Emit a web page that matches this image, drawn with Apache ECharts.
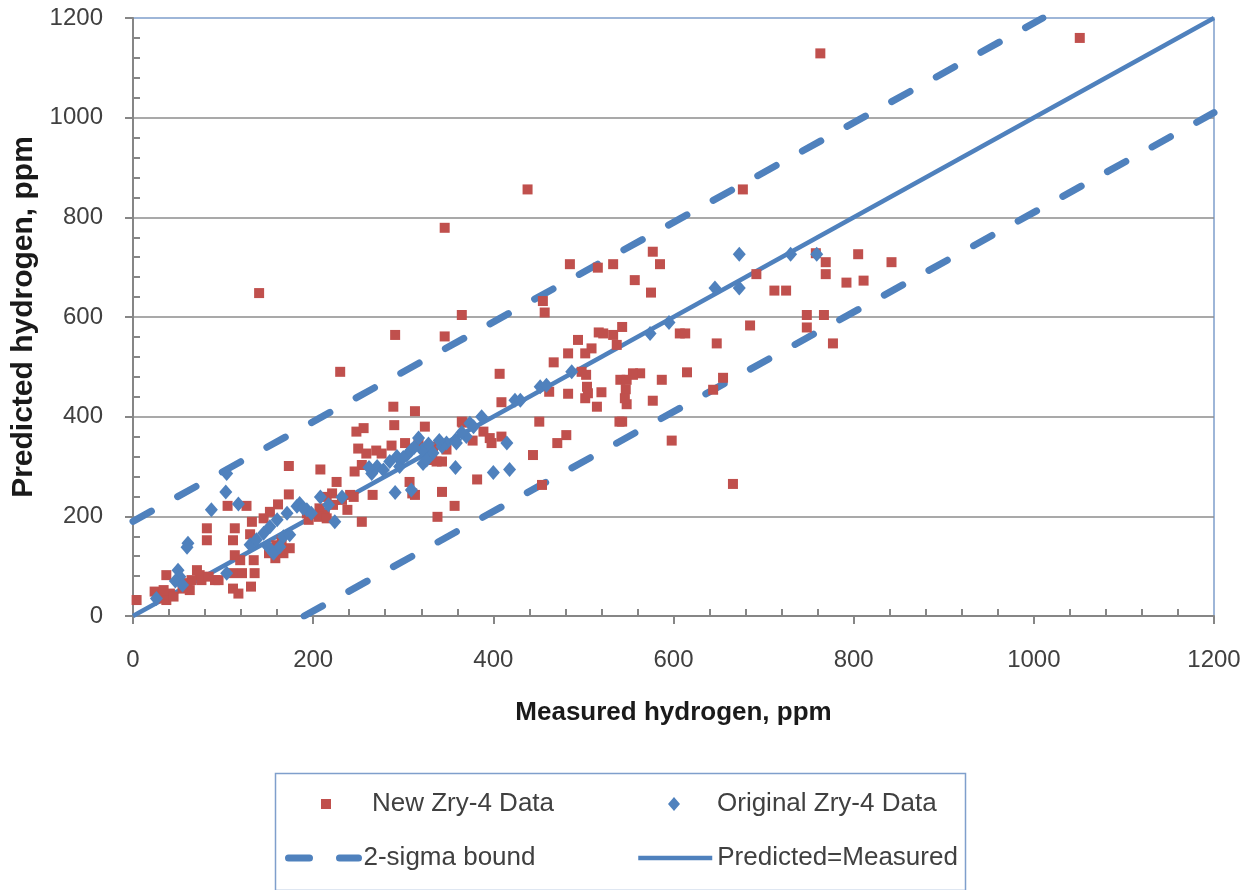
<!DOCTYPE html>
<html><head><meta charset="utf-8">
<script src="https://cdn.jsdelivr.net/npm/echarts@6/dist/echarts.min.js"></script>
<style>html,body{margin:0;padding:0;background:#fff}#c{width:1257px;height:890px}</style>
</head><body><div id="c"></div>
<script>
// ---- data ----
const xTickLabels = [0, 200, 400, 600, 800, 1000, 1200];
const yTickLabels = [0, 200, 400, 600, 800, 1000, 1200];
const minorTicks = [40,80,120,160,240,280,320,360,440,480,520,560,640,680,720,760,840,880,920,960,1040,1080,1120,1160];

const newZry4 = [
  [1051,1160],[763,1129],[438,856],[677,856],[346,779],[140,648],[485,706],[516,699],[533,706],
  [455,632],[457,609],[365,604],[291,564],[346,561],[494,554],[517,569],
  [577,731],[585,706],[557,674],[575,649],[692,686],[712,653],[725,653],[758,728],[769,710],[769,686],
  [805,726],[792,669],[811,673],[842,710],[748,604],[767,604],[748,579],[777,547],[685,583],[607,567],
  [613,567],[648,547],[615,489],[587,474],[577,432],[655,478],[644,454],[598,352],[666,265],
  [543,580],[563,487],[555,487],[548,425],[543,390],[533,564],[537,544],[522,567],
  [509,537],[502,527],[483,527],[467,509],[407,486],[498,490],[503,484],[504,460],[505,447],[520,449],
  [502,437],[515,420],[462,450],[483,446],[409,429],[541,474],[548,474],[547,455],[546,437],[555,484],
  [540,390],[365,390],[451,390],[389,370],[396,357],[398,347],[409,360],[377,352],[481,363],[471,347],
  [444,323],[382,274],[454,263],[343,310],[343,249],
  [230,490],[289,420],[313,411],[290,383],[324,380],[248,370],[256,377],[366,388],[250,336],[259,326],
  [270,332],[276,326],[287,342],[302,347],[317,347],[333,340],[337,310],[332,313],[348,334],[208,294],
  [254,303],[246,290],[226,269],[307,269],[310,246],[266,243],[221,246],[215,239],[245,239],[357,221],
  [238,213],[207,216],[213,203],[254,189],[338,199],[193,206],[195,193],
  [222,223],[232,233],[241,243],[206,199],[215,196],[313,243],
  [173,301],[173,244],[105,221],[126,221],[82,176],[82,152],[113,176],[111,152],[132,189],[130,164],
  [161,224],[145,196],[152,209],[113,122],[119,112],[134,112],[151,126],[158,116],[167,126],[174,136],
  [165,152],[159,142],[156,136],[121,86],[110,86],[135,86],[131,59],[111,55],[117,45],[71,92],[74,82],
  [65,72],[76,72],[84,79],[91,72],[37,82],[24,49],[34,52],[41,45],[30,35],[37,32],[45,39],[4,32],
  [60,66],[63,52],[55,55],[95,72]
];

const originalZry4 = [
  [673,726],[730,726],[759,726],[646,658],[673,658],[595,589],[574,567],
  [487,490],[452,460],[459,463],[424,433],[430,433],[387,400],[374,387],[358,353],[348,347],[343,340],
  [358,298],[400,288],[418,294],[415,347],
  [317,357],[321,333],[322,306],[309,333],[304,323],[293,320],[296,300],[271,300],[278,293],[265,286],
  [291,248],[309,253],[224,189],[208,239],[359,347],[370,360],[378,380],[333,327],[326,313],
  [262,298],[285,310],[300,318],[312,338],[328,345],[340,352],[365,368],
  [217,223],[232,239],[185,226],[193,213],[198,206],
  [104,286],[103,249],[87,213],[117,225],[61,146],[60,138],[50,92],[52,79],[47,70],[55,62],[26,35],[104,86],
  [130,143],[137,153],[145,166],[152,179],[160,193],[171,206],[182,220],[189,216],[150,139],[156,126],
  [163,139],[167,159],[174,163]
];

const upperBound = [[0,190],[1010,1200]];
const lowerBound = [[190,0],[1200,1010]];
const identityLine = [[0,0],[1200,1200]];

// ---- chart ----
const FONT = 'Liberation Sans, Arial, sans-serif';
const BLUE = '#4f81bd';
const RED = '#c0504d';
const AXIS_GRAY = '#868686';
const DASH = [21, 30];

const chart = echarts.init(document.getElementById('c'), null, {renderer: 'canvas'});
const legendText = {fontSize: 26, color: '#404040', fontFamily: FONT};
const plain = v => String(v);

chart.setOption({
  animation: false,
  backgroundColor: '#fff',
  grid: {left: 133, right: 43, top: 18, bottom: 274, show: true, borderColor: '#7f9fcc', borderWidth: 1.5, backgroundColor: '#fff'},
  xAxis: [{
    type: 'value', min: xTickLabels[0], max: xTickLabels[xTickLabels.length - 1], interval: 200, position: 'bottom',
    axisLine: {onZero: false, lineStyle: {color: AXIS_GRAY, width: 2}},
    axisTick: {show: true, length: 8, lineStyle: {color: AXIS_GRAY, width: 2}},
    axisLabel: {fontSize: 24, color: '#404040', margin: 32, fontFamily: FONT, formatter: plain},
    splitLine: {show: false},
    name: 'Measured hydrogen, ppm', nameLocation: 'middle', nameGap: 84,
    nameTextStyle: {fontSize: 26, fontWeight: 'bold', color: '#1a1a1a', fontFamily: FONT}
  }, {
    type: 'value', min: 0, max: 1200, position: 'bottom',
    axisLine: {show: false, onZero: false}, axisLabel: {show: false}, splitLine: {show: false},
    axisTick: {show: true, inside: true, length: 7, customValues: minorTicks, lineStyle: {color: AXIS_GRAY, width: 2}}
  }],
  yAxis: [{
    type: 'value', min: yTickLabels[0], max: yTickLabels[yTickLabels.length - 1], interval: 200, position: 'left',
    axisLine: {show: true, onZero: false, lineStyle: {color: AXIS_GRAY, width: 2}},
    axisTick: {show: true, length: 8, lineStyle: {color: AXIS_GRAY, width: 2}},
    axisLabel: {fontSize: 24, color: '#404040', margin: 30, fontFamily: FONT, formatter: plain},
    splitLine: {show: true, showMaxLine: false, lineStyle: {color: '#8c8c8c', width: 1.5}},
    name: 'Predicted hydrogen, ppm', nameLocation: 'middle', nameGap: 92, nameRotate: 90,
    nameTextStyle: {fontSize: 30, fontWeight: 'bold', color: '#1a1a1a', fontFamily: FONT}
  }, {
    type: 'value', min: 0, max: 1200, position: 'left',
    axisLine: {show: false, onZero: false}, axisLabel: {show: false}, splitLine: {show: false},
    axisTick: {show: true, inside: true, length: 7, customValues: minorTicks, lineStyle: {color: AXIS_GRAY, width: 2}}
  }],
  legend: [
    {data: [{name: 'New Zry-4 Data', icon: 'rect'}], left: 321, top: 791, padding: 0, itemWidth: 10, itemHeight: 10,
     selectedMode: false, itemStyle: {opacity: 1}, textStyle: Object.assign({padding: [0, 0, 0, 36]}, legendText)},
    {data: [{name: 'Original Zry-4 Data', icon: 'diamond'}], left: 668, top: 791, padding: 0, itemWidth: 12, itemHeight: 14,
     selectedMode: false, itemStyle: {opacity: 1}, textStyle: Object.assign({padding: [0, 0, 0, 32]}, legendText)},
    {data: ['2-sigma bound'], left: 285, top: 845, padding: 0, itemWidth: 70, itemHeight: 14,
     selectedMode: false, itemStyle: {opacity: 0},
     lineStyle: {color: BLUE, width: 7, type: DASH, cap: 'round', opacity: 1},
     textStyle: Object.assign({}, legendText)},
    {data: ['Predicted=Measured'], left: 636, top: 845, padding: 0, itemWidth: 74, itemHeight: 14,
     selectedMode: false, itemStyle: {opacity: 0},
     lineStyle: {color: BLUE, width: 4.5, opacity: 1},
     textStyle: Object.assign({}, legendText)}
  ],
  graphic: [{
    type: 'rect', left: 273, top: 771,
    shape: {x: 0, y: 0, width: 690, height: 117},
    style: {fill: 'none', stroke: '#7f9fcc', lineWidth: 1.5}, silent: true
  }],
  series: [
    {type: 'line', name: '2-sigma bound', data: upperBound, symbol: 'none', silent: true, z: 1,
     itemStyle: {color: BLUE}, lineStyle: {color: BLUE, width: 7, type: DASH, cap: 'round', opacity: 1}},
    {type: 'line', name: '2-sigma bound', data: lowerBound, symbol: 'none', silent: true, z: 1,
     itemStyle: {color: BLUE}, lineStyle: {color: BLUE, width: 7, type: DASH, cap: 'round', opacity: 1}},
    {type: 'line', name: 'Predicted=Measured', data: identityLine, symbol: 'none', silent: true, z: 1,
     itemStyle: {color: BLUE}, lineStyle: {color: BLUE, width: 4.5, opacity: 1}},
    {type: 'scatter', name: 'New Zry-4 Data', data: newZry4, symbol: 'rect', symbolSize: 10, z: 2,
     itemStyle: {color: RED, opacity: 1}},
    {type: 'scatter', name: 'Original Zry-4 Data', data: originalZry4, symbol: 'diamond', symbolSize: [13, 15], z: 3,
     itemStyle: {color: BLUE, opacity: 1}}
  ]
});
</script></body></html>
